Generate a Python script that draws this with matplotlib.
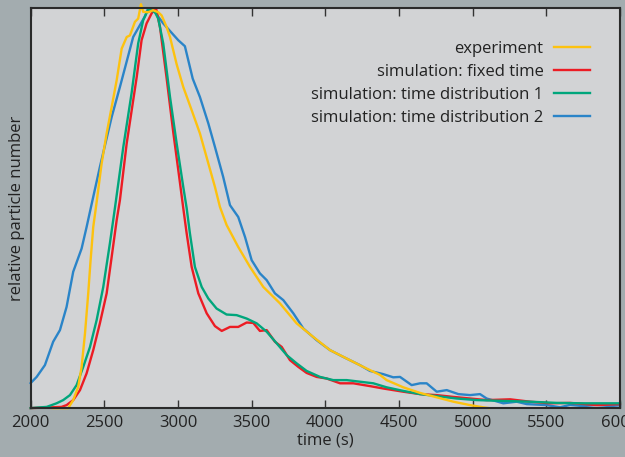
import matplotlib
matplotlib.use("Agg")
import matplotlib.pyplot as plt
from matplotlib.lines import Line2D

# ---- data ----
exp_t = [2150, 2255, 2289, 2323, 2346, 2369, 2391, 2407, 2425, 2448, 2482, 2516, 2550, 2584,
         2618, 2652, 2674, 2708, 2730, 2749, 2764, 2798, 2832, 2866, 2889, 2923, 2946, 2991,
         3036, 3093, 3149, 3206, 3251, 3285, 3330, 3409, 3489, 3579, 3692, 3805, 3918, 4032,
         4145, 4258, 4371, 4416, 4529, 4643, 4756, 4869, 4982, 5072, 5110]
exp_y = [0.0, 0.0, 0.02, 0.053, 0.103, 0.187, 0.287, 0.37, 0.453, 0.515, 0.612, 0.687, 0.753, 0.82,
         0.899, 0.928, 0.932, 0.966, 0.974, 1.01, 0.991, 0.99, 0.995, 0.99, 0.982, 0.953, 0.928, 0.86,
         0.803, 0.745, 0.687, 0.612, 0.553, 0.503, 0.458, 0.403, 0.353, 0.303, 0.262, 0.212, 0.178, 0.145,
         0.124, 0.103, 0.083, 0.07, 0.052, 0.038, 0.027, 0.016, 0.0075, 0.002, 0.0]

fix_t = [2000, 2210, 2244, 2289, 2335, 2380, 2425, 2470, 2516, 2550, 2584, 2606, 2652, 2720,
         2753, 2787, 2821, 2851, 2878, 2923, 2968, 3013, 3036, 3059, 3093, 3138, 3195, 3251,
         3297, 3353, 3409, 3466, 3511, 3556, 3602, 3658, 3704, 3760, 3817, 3873, 3941, 4009,
         4100, 4190, 4303, 4393, 4529, 4643, 4756, 4869, 4982, 5095, 5254, 5390, 5526, 5661,
         5842, 6000]
fix_y = [0.0, 0.003, 0.0075, 0.02, 0.045, 0.087, 0.145, 0.212, 0.287, 0.378, 0.47, 0.52, 0.662, 0.828,
         0.92, 0.962, 0.987, 1.0, 0.953, 0.825, 0.69, 0.565, 0.5, 0.437, 0.353, 0.287, 0.237, 0.205,
         0.193, 0.203, 0.203, 0.214, 0.213, 0.193, 0.195, 0.166, 0.153, 0.12, 0.103, 0.088, 0.078, 0.074,
         0.062, 0.062, 0.055, 0.049, 0.041, 0.035, 0.0325, 0.028, 0.024, 0.02, 0.022, 0.016, 0.012, 0.013,
         0.0075, 0.01]

d1_t = [2000, 2109, 2176, 2221, 2267, 2312, 2357, 2403, 2448, 2493, 2538, 2572, 2629, 2685,
        2730, 2764, 2798, 2844, 2866, 2900, 2946, 2991, 3036, 3059, 3081, 3115, 3161, 3206,
        3262, 3330, 3398, 3466, 3534, 3602, 3670, 3738, 3805, 3873, 3964, 4054, 4145, 4235,
        4326, 4416, 4529, 4643, 4756, 4891, 5027, 5208, 5390, 5571, 5752, 6000]
d1_y = [0.0, 0.003, 0.012, 0.02, 0.0325, 0.0575, 0.103, 0.153, 0.22, 0.303, 0.412, 0.5, 0.653, 0.787,
        0.912, 0.97, 0.997, 0.99, 0.974, 0.912, 0.778, 0.662, 0.553, 0.5, 0.437, 0.353, 0.303, 0.274,
        0.249, 0.234, 0.2325, 0.224, 0.212, 0.191, 0.162, 0.1325, 0.112, 0.093, 0.078, 0.07, 0.07, 0.066,
        0.062, 0.052, 0.043, 0.035, 0.03, 0.024, 0.02, 0.018, 0.016, 0.013, 0.012, 0.012]

d2_t = [2000, 2041, 2097, 2153, 2199, 2244, 2289, 2346, 2380, 2414, 2470, 2550, 2606, 2696,
        2776, 2798, 2844, 2900, 3002, 3047, 3100, 3149, 3206, 3251, 3307, 3353, 3409, 3455,
        3500, 3556, 3602, 3658, 3715, 3783, 3851, 3941, 4032, 4122, 4235, 4303, 4393, 4461,
        4507, 4586, 4643, 4688, 4756, 4824, 4903, 4982, 5050, 5095, 5208, 5299, 5367, 5503,
        5593, 5661, 5752, 5842, 5933, 6000]
d2_y = [0.0625, 0.078, 0.1075, 0.166, 0.195, 0.253, 0.341, 0.399, 0.453, 0.51, 0.603, 0.728, 0.803, 0.928,
        0.98, 1.0, 0.99, 0.962, 0.92, 0.905, 0.824, 0.778, 0.712, 0.653, 0.578, 0.5075, 0.478, 0.428,
        0.37, 0.337, 0.32, 0.287, 0.27, 0.237, 0.199, 0.17, 0.145, 0.128, 0.1075, 0.093, 0.085, 0.077,
        0.078, 0.0575, 0.062, 0.062, 0.041, 0.045, 0.035, 0.0325, 0.035, 0.024, 0.012, 0.016, 0.01, 0.0075,
        0.002, 0.008, 0.005, 0.008, 0.005, 0.007]

labels = ["experiment", "simulation: fixed time",
          "simulation: time distribution 1", "simulation: time distribution 2"]
colors = ["#fdc20f", "#ec1c24", "#00a67c", "#2a84c8"]
xticks = [2000, 2500, 3000, 3500, 4000, 4500, 5000, 5500, 6000]

plt.rcParams['font.family'] = ['Open Sans', 'DejaVu Sans']

fig = plt.figure(figsize=(6.25, 4.57), dpi=100, facecolor="#a3acaf")
ax = fig.add_axes([0.049, 0.107, 0.943, 0.875])
ax.set_facecolor("#d2d3d5")

lw = 1.7
ax.plot(d2_t, d2_y, color=colors[3], lw=lw, clip_on=False)
ax.plot(fix_t, fix_y, color=colors[1], lw=lw, clip_on=False)
ax.plot(d1_t, d1_y, color=colors[2], lw=lw, clip_on=False)
ax.plot(exp_t, exp_y, color=colors[0], lw=lw, clip_on=False)

ax.set_xlim(2000, 6000)
ax.set_ylim(0, 1.0)
ax.set_xticks(xticks)
ax.set_xticklabels([str(v) for v in xticks])
ax.set_yticks([])
ax.tick_params(axis='x', direction='in', length=6, width=1, color="#333333",
               top=True, labelsize=12, pad=5, labelcolor="#222222")
for s in ax.spines.values():
    s.set_color("#2a2a2a")
    s.set_linewidth(1.5)

ax.set_xlabel("time (s)", fontsize=12, color="#222222", labelpad=1)
ax.set_ylabel("relative particle number", fontsize=12, color="#222222", labelpad=4)

handles = [Line2D([], [], color=c, lw=lw) for c in colors]
leg = ax.legend(handles, labels, loc="upper right", frameon=False, markerfirst=False,
                fontsize=12, handlelength=2.2, handletextpad=0.6, labelspacing=0.42,
                bbox_to_anchor=(0.975, 0.955), labelcolor="#222222")

fig.savefig("out.png", dpi=100, facecolor=fig.get_facecolor())
